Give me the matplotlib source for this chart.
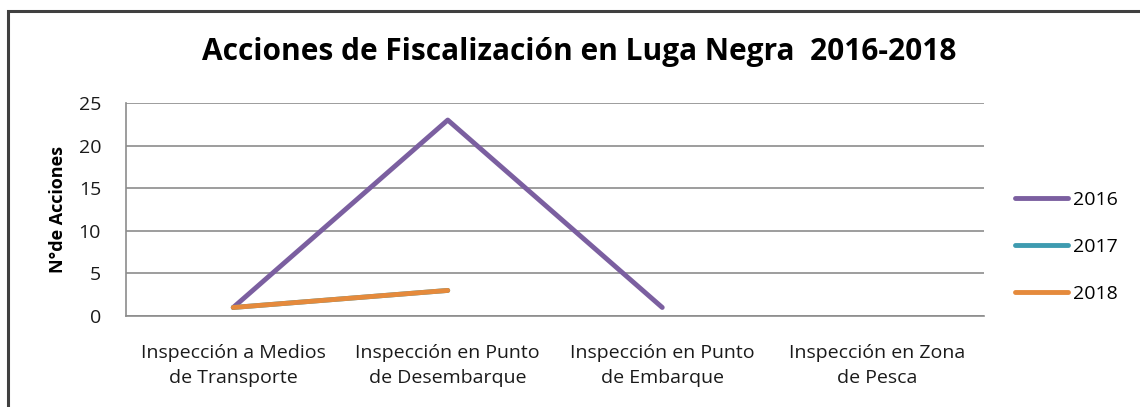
import numpy as np
import matplotlib
matplotlib.use("Agg")
import matplotlib.pyplot as plt
from matplotlib.lines import Line2D
from matplotlib.font_manager import fontManager

names = {f.name for f in fontManager.ttflist}
fam = ['Liberation Sans Narrow', 'DejaVu Sans'] if 'Liberation Sans Narrow' in names else ['Open Sans', 'DejaVu Sans']
plt.rcParams['font.family'] = fam

categories = ["Inspección a Medios\nde Transporte",
              "Inspección en Punto\nde Desembarque",
              "Inspección en Punto\nde Embarque",
              "Inspección en Zona\nde Pesca"]
years = ["2016", "2017", "2018"]
v2016 = [1, 23, 1, np.nan]
v2017 = [1, 3, np.nan, np.nan]
v2018 = [1, 3, np.nan, np.nan]
yticks = [0, 5, 10, 15, 20, 25]
colors = ["#7B5FA0", "#3E9BB0", "#E58A3C"]

fig = plt.figure(figsize=(11.4, 4.07), dpi=100)
# outer chart border (left and top edges only visible)
bx, by = 8 / 1140, 1 - 11 / 407
fig.add_artist(Line2D([bx, bx, 1.1], [-0.1, by, by], transform=fig.transFigure,
                      color='#404040', linewidth=2.2, solid_joinstyle='miter'))

ax = fig.add_axes([126 / 1140, 1 - 316 / 407, (984 - 126) / 1140, (316 - 103) / 407])
x = np.arange(len(categories))
for vals, lab, c in zip([v2016, v2017, v2018], years, colors):
    ax.plot(x, vals, color=c, linewidth=3.5, label=lab, solid_capstyle='round')

ax.set_xlim(-0.5, len(categories) - 0.5)
ax.set_ylim(0, 25)
ax.set_yticks(yticks)
ax.set_xticks(x)
ax.set_xticklabels(categories, fontsize=14, linespacing=1.55)
ax.tick_params(axis='both', length=0, labelsize=14, colors='#1a1a1a')
ax.tick_params(axis='y', pad=18)
ax.tick_params(axis='x', pad=20)
ax.grid(axis='y', color='#8c8c8c', linewidth=1.2)
ax.set_axisbelow(True)
for s in ax.spines.values():
    s.set_color('#8c8c8c')
    s.set_linewidth(1.2)
ax.spines['top'].set_visible(False)
ax.spines['right'].set_visible(False)

ax.set_ylabel("N°de Acciones", fontsize=13, fontweight='bold', labelpad=8)
fig.text(0.508, 1 - 52 / 407, "Acciones de Fiscalización en Luga Negra  2016-2018",
         ha='center', va='center', fontsize=21.5, fontweight='bold')

leg = ax.legend(loc='center left', bbox_to_anchor=(1.016, 0.325), frameon=False,
                fontsize=14, handlelength=2.7, labelspacing=1.5, handletextpad=0.25)

fig.savefig("out.png", dpi=100)
